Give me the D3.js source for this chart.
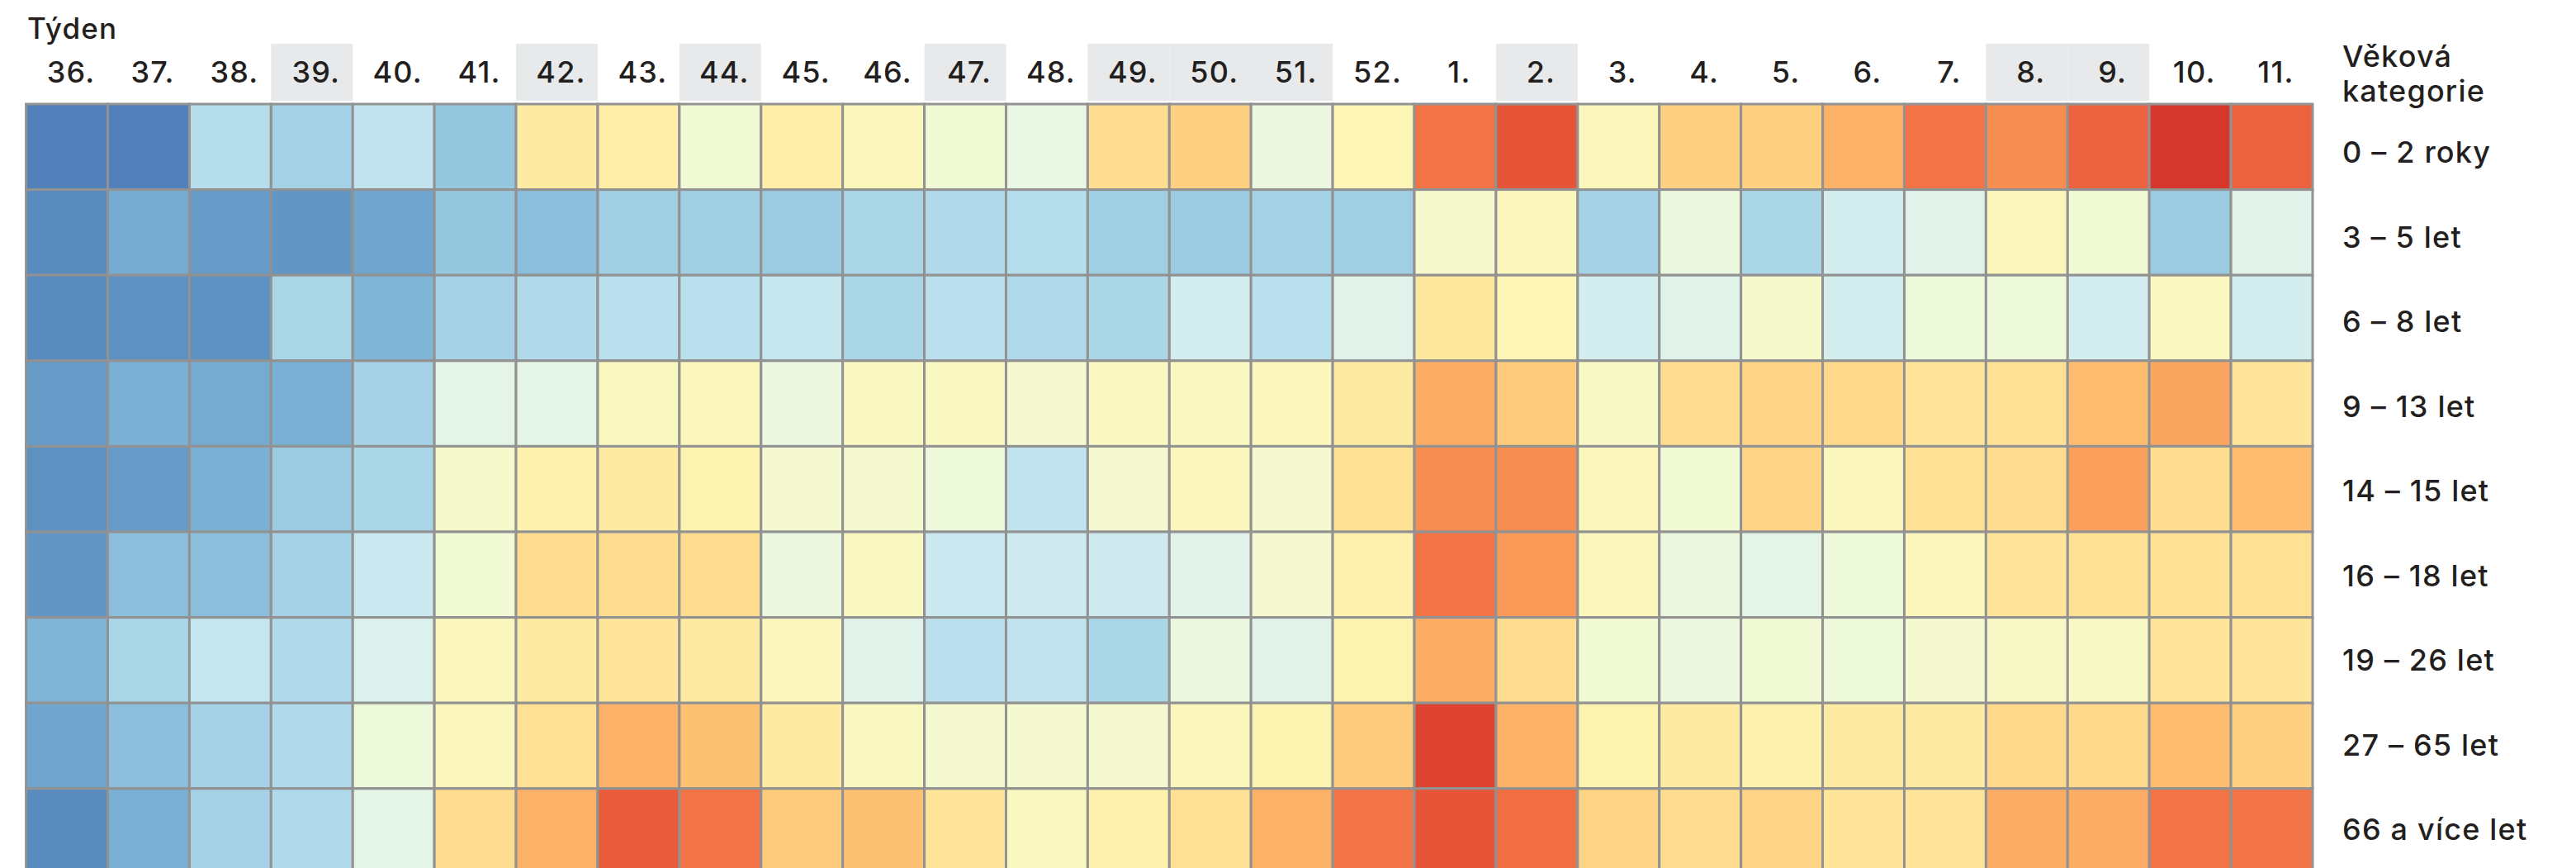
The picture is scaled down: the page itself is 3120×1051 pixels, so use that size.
<!DOCTYPE html>
<html lang="cs">
  <head>
    <meta charset="utf-8"/>
    <script src="https://d3js.org/d3.v7.min.js"></script>
    <title>Týden / Věková kategorie</title>
    <style>
      body { margin: 0; background: #fff; }
      text { font-family: Inter, "Noto Sans", sans-serif; fill: #231f20; font-weight: 500; letter-spacing: 1.2px; }
    </style>
  </head>
  <body>
    <svg id="chart"></svg>
    <script>
      const width = 3120;
      const height = 1051;

      const weeks = ["36.", "37.", "38.", "39.", "40.", "41.", "42.", "43.", "44.", "45.", "46.", "47.", "48.", "49.", "50.", "51.", "52.",
                     "1.", "2.", "3.", "4.", "5.", "6.", "7.", "8.", "9.", "10.", "11."];
      const highlighted = ["39.", "42.", "44.", "47.", "49.", "50.", "51.", "2.", "8.", "9."];
      const ageGroups = ["0 – 2 roky", "3 – 5 let", "6 – 8 let", "9 – 13 let", "14 – 15 let",
                         "16 – 18 let", "19 – 26 let", "27 – 65 let", "66 a více let"];

      // index 0–100 (0 = modrá, 100 = červená)
      const age0_2   = [12, 12, 32, 29, 34, 26, 56, 55, 46, 55, 51, 46, 43, 60, 63, 44, 52, 79, 84, 51, 63, 63, 69, 79, 75, 82, 89, 82];
      const age3_5   = [14, 20, 17, 16, 19, 26, 24, 28, 28, 27, 30, 31, 32, 28, 27, 29, 28, 48, 51, 29, 44, 30, 38, 41, 51, 46, 27, 41];
      const age6_8   = [14, 15, 15, 30, 22, 29, 31, 33, 33, 35, 30, 33, 31, 30, 38, 33, 41, 57, 52, 38, 41, 48, 38, 45, 45, 38, 50, 38];
      const age9_13  = [17, 21, 20, 21, 29, 42, 42, 50, 51, 44, 50, 50, 47, 50, 50, 51, 56, 70, 64, 49, 60, 62, 61, 58, 59, 67, 71, 58];
      const age14_15 = [15, 17, 21, 27, 30, 48, 54, 56, 53, 47, 47, 45, 34, 47, 51, 47, 59, 75, 75, 51, 46, 62, 51, 59, 60, 72, 60, 67];
      const age16_18 = [16, 24, 24, 29, 36, 46, 60, 60, 60, 44, 50, 36, 37, 37, 41, 47, 54, 79, 73, 51, 44, 42, 45, 51, 58, 59, 59, 59];
      const age19_26 = [22, 30, 35, 31, 40, 51, 56, 58, 56, 51, 41, 33, 34, 30, 44, 41, 53, 70, 60, 46, 44, 46, 45, 47, 49, 49, 58, 58];
      const age27_65 = [19, 24, 29, 31, 45, 51, 59, 69, 66, 56, 50, 47, 47, 47, 51, 53, 64, 87, 69, 53, 56, 54, 56, 56, 61, 61, 67, 63];
      const age66    = [14, 21, 29, 31, 42, 60, 69, 83, 79, 64, 66, 58, 50, 54, 59, 69, 79, 84, 80, 62, 60, 62, 58, 58, 70, 70, 79, 79];

      const rows = [age0_2, age3_5, age6_8, age9_13, age14_15, age16_18, age19_26, age27_65, age66];

      let cells = [];
      rows.forEach(function(row, i) {
        row.forEach(function(v, j) {
          cells.push({age: ageGroups[i], week: weeks[j], value: v});
        });
      });

      const gridLeft = 31.6, gridRight = 2801, gridTop = 126;
      const rowH = 103.6;

      let x = d3.scaleBand().domain(weeks).range([gridLeft, gridRight]);
      let y = d3.scaleBand().domain(ageGroups).range([gridTop, gridTop + rowH * ageGroups.length]);
      let labelY = d3.scalePoint().domain(ageGroups).range([197, 1017]);
      let color = d3.scaleSequential(d3.interpolateRdYlBu).domain([100, 0]);

      let svg = d3.select("#chart")
          .attr("width", width)
          .attr("height", height);

      // šedé podbarvení vybraných týdnů
      svg.selectAll(".hl")
          .data(highlighted)
          .enter().append("rect")
          .attr("class", "hl")
          .attr("x", d => x(d))
          .attr("y", 53)
          .attr("width", x.bandwidth())
          .attr("height", 69)
          .attr("fill", "#e8e9eb");

      svg.append("text")
          .attr("x", 33)
          .attr("y", 47)
          .style("font-size", "35px")
          .text("Týden");

      svg.selectAll(".week")
          .data(weeks)
          .enter().append("text")
          .attr("class", "week")
          .attr("x", d => x(d) + x.bandwidth() / 2 + 5)
          .attr("y", 100)
          .attr("text-anchor", "middle")
          .style("font-size", "36px")
          .text(d => d);

      svg.selectAll(".cell")
          .data(cells)
          .enter().append("rect")
          .attr("class", "cell")
          .attr("x", d => x(d.week))
          .attr("y", d => y(d.age))
          .attr("width", x.bandwidth())
          .attr("height", y.bandwidth())
          .attr("fill", d => color(d.value))
          .attr("stroke", "#929292")
          .attr("stroke-width", 3);

      svg.append("text")
          .attr("x", 2837)
          .attr("y", 81)
          .style("font-size", "36px")
          .text("Věková");
      svg.append("text")
          .attr("x", 2837)
          .attr("y", 123)
          .style("font-size", "36px")
          .text("kategorie");

      svg.selectAll(".age")
          .data(ageGroups)
          .enter().append("text")
          .attr("class", "age")
          .attr("x", 2837)
          .attr("y", d => labelY(d))
          .style("font-size", "36px")
          .text(d => d);
    </script>
  </body>
</html>
